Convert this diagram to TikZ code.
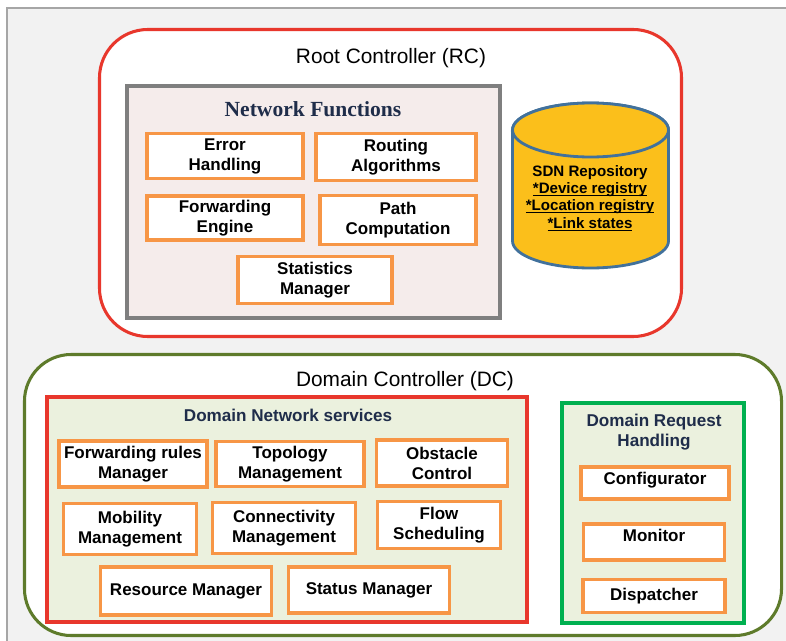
\documentclass[tikz,border=0pt]{standalone}
\usepackage{xcolor}
\usepackage{fontspec}
\usepackage{tikz}
\setmainfont{Liberation Sans}
\newfontfamily\serifhead{Liberation Serif}

\definecolor{framegray}{HTML}{A6A6A6}
\definecolor{framefill}{HTML}{F2F2F2}
\definecolor{rcred}{HTML}{E8372C}
\definecolor{boxorange}{HTML}{F79646}
\definecolor{nfgray}{HTML}{7F7F7F}
\definecolor{nffill}{HTML}{F5ECEB}
\definecolor{repoyellow}{HTML}{FBBF1B}
\definecolor{repoblue}{HTML}{41719C}
\definecolor{dcolive}{HTML}{5E7B2B}
\definecolor{drhgreen}{HTML}{00B050}
\definecolor{groupfill}{HTML}{EBF1DE}
\definecolor{titlenavy}{HTML}{1F2D4A}

% underline that sits on the baseline and runs through descenders
\newcommand{\regline}[1]{\underline{\smash{#1}}}

\tikzset{
    funcbox/.style={draw=boxorange,
        line width=3pt,
        fill=white,
        inner sep=0pt,
        align=center,
        font=\bfseries\fontsize{14.5}{17}\selectfont},
    ctrlframe/.style={rounded corners=1.45cm,
        line width=2.6pt,
        fill=white},
    groupbox/.style={line width=3.4pt,
        inner sep=0pt},
    ctrltitle/.style={font=\fontsize{17.8}{20}\selectfont},
    grouptitle/.style={text=titlenavy,
        align=center,
        font=\bfseries\fontsize{14.6}{17}\selectfont},
    repodrum/.style={draw=repoblue,
        fill=repoyellow,
        line width=2.4pt,
        x radius=2.34cm,
        y radius=0.81cm}
}

\begin{document}
\begin{tikzpicture}[x=0.03cm, y=-0.03cm]
    \useasboundingbox (0,0) rectangle (786,640);
    \clip (0,0) rectangle (786,640);
    % Background frame
    \draw [draw=framegray, fill=framefill, line width=1.4pt] (7,8) rectangle (820,680);

    % Root controller
    \node [draw=rcred, ctrlframe,
        minimum width=17.46cm,
        minimum height=9.21cm] (RC) at (390.5,183) {};
    \node [ctrltitle] (RCtitle) at (391,58) {Root Controller (RC)};
    % Network functions group
    \node [draw=nfgray, fill=nffill, groupbox,
        minimum width=11.19cm,
        minimum height=6.96cm] (NF) at (313.5,202) {};
    \node [text=titlenavy,
        font=\serifhead\bfseries\fontsize{18.4}{22}\selectfont] (NFtitle) at (313,109) {Network Functions};
    \node [funcbox, minimum width=4.67cm, minimum height=1.34cm] (error) at (225,156) {Error\\Handling};
    \node [funcbox, minimum width=4.79cm, minimum height=1.40cm] (routing) at (396,157) {Routing\\Algorithms};
    \node [funcbox, minimum width=4.67cm, minimum height=1.31cm] (fwdengine) at (225,218) {Forwarding\\Engine};
    \node [funcbox, minimum width=4.67cm, minimum height=1.46cm] (path) at (398,220) {Path\\Computation};
    \node [funcbox, minimum width=4.61cm, minimum height=1.40cm] (stats) at (315,280) {Statistics\\Manager};
    % SDN repository drum
    \draw [repodrum] (512.5,130) -- (512.5,241)
        arc [start angle=180, end angle=360] -- (668.5,130)
        arc [start angle=0, end angle=180] -- cycle;
    \draw [repodrum] (590.5,130) ellipse [];
    \node [align=center,
        font=\bfseries\fontsize{12.9}{14.8}\selectfont] (repotext) at (590,198)
        {SDN Repository\\\regline{*Device registry}\\\regline{*Location registry}\\\regline{*Link states}};

    % Domain controller
    \node [draw=dcolive, ctrlframe,
        rounded corners=1.4cm,
        minimum width=22.71cm,
        minimum height=8.43cm] (DC) at (403,495) {};
    \node [ctrltitle] (DCtitle) at (405,381) {Domain Controller (DC)};
    % Domain network services group
    \node [draw=rcred, fill=groupfill, groupbox,
        minimum width=14.4cm,
        minimum height=6.75cm] (DNS) at (287,509.5) {};
    \node [grouptitle] (DNStitle) at (288,415) {Domain Network services};
    \node [funcbox, minimum width=4.43cm, minimum height=1.37cm] (fwdrules) at (133,464) {Forwarding rules\\Manager};
    \node [funcbox, minimum width=4.43cm, minimum height=1.34cm] (topology) at (290,464) {Topology\\Management};
    \node [funcbox, minimum width=3.92cm, minimum height=1.37cm] (obstacle) at (442,463) {Obstacle\\Control};
    \node [funcbox, minimum width=3.98cm, minimum height=1.52cm] (mobility) at (130,529) {Mobility\\Management};
    \node [funcbox, minimum width=4.30cm, minimum height=1.52cm] (connect) at (284,528) {Connectivity\\Management};
    \node [funcbox, minimum width=3.68cm, minimum height=1.40cm] (flow) at (439,525) {Flow\\Scheduling};
    \node [funcbox, minimum width=5.14cm, minimum height=1.43cm] (resource) at (186,591) {Resource Manager};
    \node [funcbox, minimum width=4.84cm, minimum height=1.37cm] (status) at (369,590) {Status Manager};
    % Domain request handling group
    \node [draw=drhgreen, fill=groupfill, groupbox,
        minimum width=5.46cm,
        minimum height=6.6cm] (DRH) at (653,513) {};
    \node [grouptitle, font=\bfseries\fontsize{14.6}{17.2}\selectfont] (DRHtitle) at (654,432) {Domain Request\\Handling};
    \node [funcbox, minimum width=4.43cm, minimum height=0.95cm,
        text height=10.5pt, text depth=8.5pt] (config) at (655,483) {Configurator};
    \node [funcbox, minimum width=4.22cm, minimum height=1.07cm,
        text height=10.5pt, text depth=12pt] (monitor) at (654,542) {Monitor};
    \node [funcbox, minimum width=4.27cm, minimum height=0.98cm] (dispatch) at (654,596) {Dispatcher};
\end{tikzpicture}
\end{document}
